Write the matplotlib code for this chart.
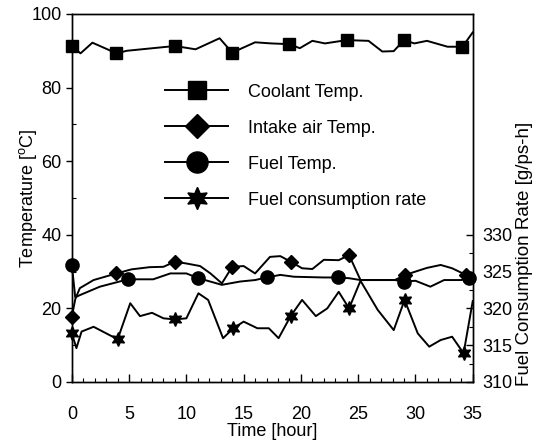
import numpy as np
import matplotlib
matplotlib.use("Agg")
import matplotlib.pyplot as plt
from matplotlib.ticker import MultipleLocator

plt.rcParams['font.family'] = ['Liberation Sans', 'DejaVu Sans']
plt.rcParams['mathtext.default'] = 'regular'

# coolant temperature [C]
cool_x = [0, 0.76, 1.8, 3.9, 4.8, 9.0, 10.8, 12.9, 14.0, 16.0, 17.4, 19.0, 19.9, 21.0,
          22.1, 24.0, 25.9, 27.1, 28.1, 29.0, 29.9, 31.0, 32.8, 34.1, 35.0]
cool_y = [91.3, 89.3, 92.2, 89.3, 90.0, 91.3, 90.4, 93.4, 89.5, 92.3, 92.0, 91.8, 90.7, 92.7,
          92.0, 92.9, 92.7, 89.8, 89.9, 92.9, 92.0, 92.7, 91.1, 91.1, 95.0]
cool_mk = [0, 3, 5, 8, 11, 15, 19, 23]

# intake air temperature [C]
air_x = [0, 0.3, 0.7, 1.9, 3.9, 5.2, 6.8, 8.0, 9.0, 10.0, 11.2, 12.1, 13.1, 14.0, 15.0, 16.0,
         17.3, 18.2, 19.1, 20.1, 21.0, 22.0, 23.3, 24.2, 25.2, 28.2, 29.1, 30.0, 31.0, 32.2,
         33.2, 34.4, 35.0]
air_y = [17.7, 22.5, 25.5, 27.7, 29.5, 30.6, 31.2, 31.3, 32.7, 32.2, 31.5, 29.5, 26.8, 31.3,
         31.5, 29.5, 34.0, 34.2, 32.7, 30.9, 30.7, 33.2, 33.1, 34.5, 27.7, 27.7, 29.1, 30.0,
         31.0, 31.8, 30.9, 29.1, 28.5]
air_mk = [0, 4, 8, 13, 18, 23, 26, 31]

# fuel temperature [C]
fuel_x = [0, 0.3, 0.7, 2.45, 4.9, 7.1, 8.6, 10.0, 11.05, 13.1, 14.7, 16.0, 17.0, 18.2, 19.4,
          22.0, 23.2, 24.2, 25.2, 28.2, 29.0, 30.0, 31.3, 32.5, 34.0, 34.7, 35.0]
fuel_y = [31.8, 23.0, 23.6, 25.9, 27.9, 27.9, 29.5, 29.5, 28.2, 26.4, 27.3, 27.7, 28.4, 29.1,
          28.6, 28.4, 28.4, 28.2, 27.7, 27.7, 27.3, 27.5, 25.9, 27.7, 27.7, 28.3, 27.8]
fuel_mk = [0, 4, 8, 12, 16, 20, 25]

# fuel consumption rate [g/ps-h]
fcr_x = [0, 0.4, 0.85, 1.9, 4.0, 5.1, 5.95, 7.0, 8.0, 9.0, 10.0, 11.05, 11.9, 13.2, 14.1, 15.0,
         16.2, 17.2, 18.05, 19.1, 20.1, 21.3, 22.3, 23.3, 24.2, 25.2, 26.7, 28.1, 29.05, 30.2,
         31.2, 32.2, 33.2, 34.2, 35.0]
fcr_y = [316.6, 314.6, 316.85, 317.5, 315.8, 320.7, 318.95, 319.4, 318.65, 318.5, 318.65,
         322.05, 321.15, 315.95, 317.3, 318.2, 317.3, 317.3, 315.95, 318.95, 321.15, 318.95,
         320.0, 322.25, 320.0, 323.75, 319.8, 317.05, 321.15, 316.6, 314.8, 315.7, 316.15,
         313.9, 321.0]
fcr_mk = [0, 4, 9, 14, 19, 24, 28, 33]

fig = plt.figure(figsize=(5.36, 4.45), dpi=100)
ax = fig.add_axes([0.134, 0.1416, 0.748, 0.827])
ax2 = ax.twinx()

lw = 1.4
l1, = ax.plot(cool_x, cool_y, '-', color='black', lw=lw, marker='s', ms=8.5,
              markevery=cool_mk, clip_on=False, label='Coolant Temp.')
l2, = ax.plot(air_x, air_y, '-', color='black', lw=lw, marker='D', ms=7.5,
              markevery=air_mk, clip_on=False, label='Intake air Temp.')
l3, = ax.plot(fuel_x, fuel_y, '-', color='black', lw=lw, marker='o', ms=9.5,
              markevery=fuel_mk, clip_on=False, label='Fuel Temp.')
l4, = ax2.plot(fcr_x, fcr_y, '-', color='black', lw=lw, marker=(6, 1, 0), ms=10,
               markevery=fcr_mk, clip_on=False, label='Fuel consumption rate')

ax.set_xlim(0, 35)
ax.set_ylim(0, 100)
ax2.set_ylim(310, 360)

ax.xaxis.set_major_locator(MultipleLocator(5))
ax.xaxis.set_minor_locator(MultipleLocator(1))
ax.yaxis.set_major_locator(MultipleLocator(20))
ax.yaxis.set_minor_locator(MultipleLocator(10))
ax2.set_yticks([310, 315, 320, 325, 330])
ax2.set_yticks([312.5, 317.5, 322.5, 327.5], minor=True)

ax.tick_params(axis='x', which='major', direction='in', length=6, width=1, labelsize=13, pad=17)
ax.tick_params(axis='x', which='minor', direction='in', length=3, width=0.8)
ax.tick_params(axis='y', which='major', direction='out', length=4, width=1, labelsize=13)
ax.tick_params(axis='y', which='minor', direction='in', length=3, width=0.8)
ax2.tick_params(axis='y', which='major', direction='in', length=5, width=1, labelsize=13, pad=7)
ax2.tick_params(axis='y', which='minor', direction='in', length=3, width=0.8)

for a in (ax, ax2):
    for s in a.spines.values():
        s.set_linewidth(1.0)

ax.set_xlabel('Time [hour]', fontsize=13, labelpad=0)
ax.set_ylabel('Temperature [$^o$C]', fontsize=13, labelpad=-6)
ax2.set_ylabel('Fuel Consumption Rate [g/ps-h]', fontsize=13.5)
ax2.yaxis.set_label_coords(1.13, 0.348)
ax2.yaxis.label.set(va='center', ha='center')

ax.legend(handles=[l1, l2, l3, l4], loc='upper left', bbox_to_anchor=(0.21, 0.835),
          frameon=False, fontsize=13, markerscale=1.6, handlelength=3.5,
          handletextpad=1.1, labelspacing=1.05, borderpad=0)

fig.savefig('out.png', dpi=100)
